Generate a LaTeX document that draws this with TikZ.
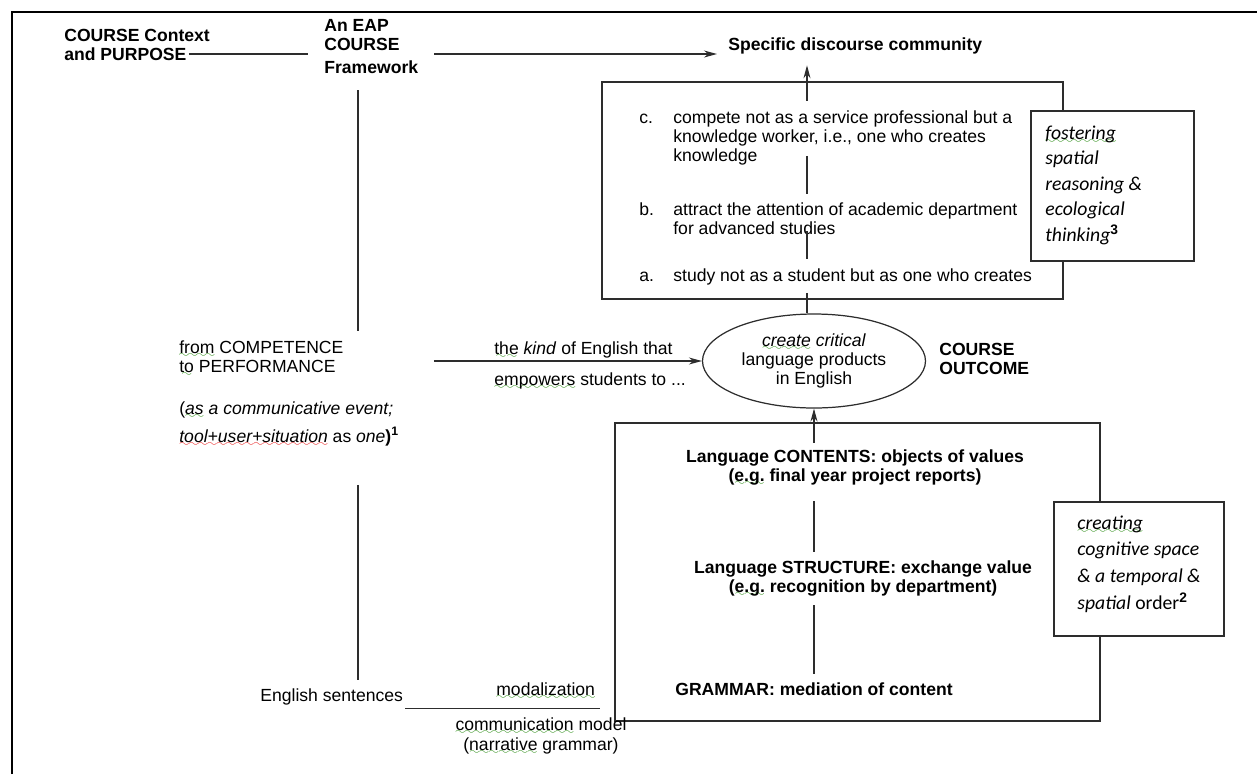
\documentclass[tikz,border=0pt]{standalone}
\usepackage{fontspec}
\setmainfont{Liberation Sans}
\newfontfamily\calfont{Carlito}
\usepackage{tikz}
\usetikzlibrary{arrows.meta,shapes.geometric,calc}
\definecolor{spellgreen}{RGB}{60,150,40}
\definecolor{spellred}{RGB}{235,40,40}
\definecolor{boxline}{RGB}{45,45,45}
\font\wavefont=lasy6
\newcommand{\squig}[2]{\leavevmode\setbox0=\hbox{#2}\rlap{\lower2.4pt\hbox to\wd0{\color{#1}\xleaders\hbox{\wavefont\char58}\hfil}}\box0\relax}
\newcommand{\gsq}[1]{\squig{spellgreen}{#1}}
\newcommand{\rsq}[1]{\squig{spellred}{#1}}

\begin{document}
\begin{tikzpicture}[scale=0.2,
		txt/.style={inner sep=0pt, anchor=west, align=left, font=\fontsize{10pt}{10.8pt}\selectfont},
		bold txt/.style={txt, font=\fontsize{10pt}{10.8pt}\selectfont\bfseries},
		frame box/.style={draw=boxline, line width=0.8pt, inner sep=0pt},
		side note/.style={frame box, fill=white},
		note txt/.style={inner sep=0pt, anchor=west, align=left, font=\calfont\itshape\fontsize{11.2pt}{14.5pt}\selectfont},
		link/.style={draw=boxline, line width=0.6pt},
		arr/.style={link, -{Stealth[length=2.6mm,width=1.4mm]}}]
			\useasboundingbox (0,0) rectangle (125.7,-77.4);
			\draw [line width=1pt] (1.2,-77.4) -- (1.2,-1.2) -- (125.7,-1.2);
			\node [bold txt] (ctxa) at (6.4,-3.5) {COURSE Context};
			\node [bold txt] (ctxb) at (6.4,-5.4) {and PURPOSE};
			\node [bold txt] (fw) at (32.4,-4.65) {An EAP\\[0.5pt]COURSE\\[2.2pt]Framework};
			\node [bold txt] (sdc) at (72.8,-4.6) {Specific discourse community};
			\draw [link] ($(ctxb.east)+(0.2,0)$) -- ($(fw.west |- ctxb.east)+(-1.6,0)$);
			\draw [arr] ($(fw.east |- ctxb.east)+(1.6,0)$) -- ($(sdc.west |- ctxb.east)+(-1.1,0)$);
			\node [frame box, minimum width=9.22cm, minimum height=4.34cm] (topbox) at (83.25,-19.05) {};
			\node [txt] (labc) at (63.9,-11.9) {c.};
			\node [txt] (itemc) at (67.3,-13.8) {compete not as a service professional but a\\knowledge worker, i.e., one who creates\\knowledge};
			\node [txt] (labb) at (63.9,-20.9) {b.};
			\node [txt] (itemb) at (67.3,-21.85) {attract the attention of academic department\\for advanced studies};
			\node [txt] (laba) at (63.9,-27.7) {a.};
			\node [txt] (itema) at (67.3,-27.7) {study not as a student but as one who creates};
			\node [draw=boxline, line width=0.7pt, ellipse, minimum width=4.46cm, minimum height=1.88cm, inner sep=0pt, align=center, font=\fontsize{10pt}{10.8pt}\selectfont] (outcome) at (81.4,-36.1) {\textit{\gsq{create} critical}\\language products\\in English};
			\node [bold txt] (outc) at (93.9,-35.85) {COURSE\\OUTCOME};
			\coordinate (spine) at (80.7,0);
			\draw [arr] ($(spine |- itemc.north)+(0,0.96)$) -- ($(spine |- sdc.south)+(0,-1.08)$);
			\draw [link] ($(spine |- itemc.south)+(0,0.96)$) -- ($(spine |- itemb.north)+(0,0.86)$);
			\draw [link] ($(spine |- itemb.south)+(0,0.36)$) -- ($(spine |- itema.north)+(0,0.96)$);
			\draw [link] ($(spine |- itema.south)+(0,-0.74)$) -- (spine |- outcome.north);
			\node [txt] (comp) at (17.9,-35.85) {\gsq{from} COMPETENCE\\\gsq{to} PERFORMANCE};
			\node [txt, font=\fontsize{10pt}{15.9pt}\selectfont] (event) at (17.9,-42.4) {(\textit{\gsq{as} a communicative event;}\\\textit{\rsq{tool+user+situation}} as \textit{one}\textbf{)\textsuperscript{1}}};
			\coordinate (kindstart) at (43.4,-36.1);
			\draw [arr] (kindstart) -- (outcome.west);
			\node [txt] (kinda) at (49.4,-35.0) {\gsq{the} \textit{kind} of English that};
			\node [txt] (kindb) at (49.4,-38.1) {\gsq{empowers} students to ...};
			\node [frame box, minimum width=9.70cm, minimum height=5.96cm] (botbox) at (85.75,-57.2) {};
			\node [bold txt, align=center, anchor=center] (contents) at (85.5,-46.8) {Language CONTENTS: objects of values\\(\gsq{e.g.} final year project reports)};
			\node [bold txt, align=center, anchor=center] (struct) at (86.3,-57.85) {Language STRUCTURE: exchange value\\(\gsq{e.g.} recognition by department)};
			\node [bold txt, anchor=center] (gram) at (81.4,-68.9) {GRAMMAR: mediation of content};
			\coordinate (spineb) at (81.4,0);
			\draw [arr] ($(spineb |- contents.north)+(0,0.7)$) -- (spineb |- outcome.south);
			\draw [link] ($(spineb |- contents.south)+(0,-1.5)$) -- ($(spineb |- struct.north)+(0,0.8)$);
			\draw [link] ($(spineb |- struct.south)+(0,-0.83)$) -- ($(spineb |- gram.north)+(0,0.8)$);
			\node [side note, minimum width=3.26cm, minimum height=3.0cm] (fostbox) at (111.25,-18.6) {};
			\node [note txt] (fost) at (104.5,-18.5) {\gsq{fostering}\\spatial\\reasoning \&\\ecological\\thinking\textsuperscript{\normalfont\bfseries 3}};
			\node [side note, minimum width=3.4cm, minimum height=2.68cm] (creabox) at (113.9,-56.9) {};
			\node [note txt, font=\calfont\itshape\fontsize{11.2pt}{15.2pt}\selectfont] (crea) at (107.7,-56.4) {\gsq{creating}\\cognitive space\\\& a temporal \&\\spatial {\upshape order}\textsuperscript{\normalfont\bfseries 2}};
			\node [txt] (engl) at (26.0,-69.7) {English sentences};
			\node [txt] (modal) at (49.6,-69.1) {\gsq{modalization}};
			\draw [link] ($(engl.south east)+(0.2,-0.33)$) -- ($(engl.south east -| modal.east)+(0.5,-0.33)$);
			\node [txt, align=center, anchor=center, font=\fontsize{10pt}{11.3pt}\selectfont] (commun) at (54.1,-73.6) {\gsq{communication} model\\(\gsq{narrative} grammar)};
			\coordinate (axis) at (35.8,0);
			\draw [link] ($(axis |- fw.south)+(0,-1.6)$) -- ($(axis |- comp.north)+(0,0.9)$);
			\draw [link] ($(axis |- event.south)+(0,-3.8)$) -- ($(axis |- engl.north)+(0,0.8)$);
\end{tikzpicture}
\end{document}
